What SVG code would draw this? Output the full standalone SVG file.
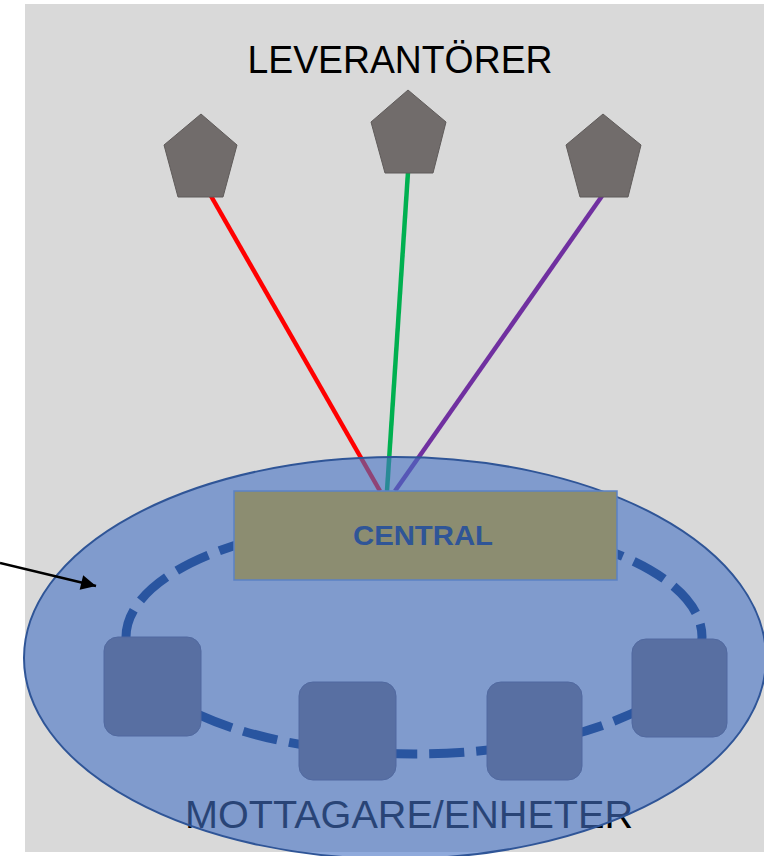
<svg xmlns="http://www.w3.org/2000/svg" width="764" height="856" viewBox="0 0 764 856">
  <defs>
    <style>
      .title { font-family: "Liberation Sans", Arial, sans-serif; fill: #000000; }
      .supplier { fill: #716c6b; stroke: #5f5b5a; stroke-width: 1; }
      .link { fill: none; stroke-width: 4.5; }
      .unit { fill: #586fa2; stroke: #5169a0; stroke-width: 1; }
    </style>
    <marker id="arrowhead" viewBox="0 0 10 10" refX="10" refY="5" markerWidth="7" markerHeight="6" markerUnits="strokeWidth" orient="auto">
      <path d="M0,0 L10,5 L0,10 Z" fill="#000000"/>
    </marker>
  </defs>

  <rect x="0" y="0" width="764" height="856" fill="#ffffff"/>
  <rect id="background" x="25" y="4" width="739" height="848" fill="#d9d9d9"/>

  <text id="label-leverantorer" class="title" x="400" y="73" font-size="38" text-anchor="middle" textLength="305" lengthAdjust="spacingAndGlyphs">LEVERANTÖRER</text>
  <text id="label-mottagare" class="title" x="409" y="828" font-size="39" text-anchor="middle" textLength="448" lengthAdjust="spacingAndGlyphs">MOTTAGARE/ENHETER</text>

  <g id="connectors">
    <line class="link" x1="211" y1="196" x2="380" y2="491" stroke="#ff0000"/>
    <line class="link" x1="408" y1="172" x2="387" y2="491" stroke="#00b050"/>
    <line class="link" x1="602" y1="196" x2="395" y2="491" stroke="#7030a0"/>
  </g>

  <g id="recipients-area">
    <ellipse cx="395" cy="658" rx="371" ry="201" fill="#4472c4" fill-opacity="0.6" stroke="#2f5597" stroke-width="2"/>
    <ellipse id="ring" cx="414" cy="637" rx="288" ry="117" fill="none" stroke="#2955a0" stroke-width="9" stroke-dasharray="35 12"/>
  </g>

  <g id="pointer">
    <line x1="0" y1="563" x2="96" y2="586" stroke="#000000" stroke-width="2.5" marker-end="url(#arrowhead)"/>
  </g>

  <g id="supplier-1"><polygon class="supplier" points="201,114 237,145 223,197 178,197 164,145"/></g>
  <g id="supplier-2"><polygon class="supplier" points="408,90 446,122 433,173 385,173 371,122"/></g>
  <g id="supplier-3"><polygon class="supplier" points="603,114 641,145 628,197 580,197 566,145"/></g>

  <g id="unit-1"><rect class="unit" x="104" y="637" width="97" height="99" rx="14"/></g>
  <g id="unit-2"><rect class="unit" x="299" y="682" width="97" height="98" rx="14"/></g>
  <g id="unit-3"><rect class="unit" x="487" y="682" width="95" height="98" rx="14"/></g>
  <g id="unit-4"><rect class="unit" x="632" y="639" width="95" height="98" rx="14"/></g>

  <g id="central">
    <rect x="234" y="491" width="383" height="89" fill="#8c8d71" stroke="#5b82c5" stroke-width="1.5"/>
    <text x="423" y="545" font-family="'Liberation Sans', Arial, sans-serif" font-size="28" font-weight="bold" fill="#2f5597" text-anchor="middle" textLength="140" lengthAdjust="spacingAndGlyphs">CENTRAL</text>
  </g>
</svg>
